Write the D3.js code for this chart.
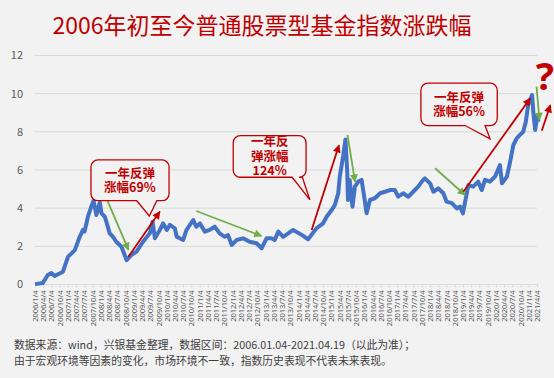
<!DOCTYPE html>
<html>
<head>
<meta charset="utf-8">
<script src="https://cdn.jsdelivr.net/npm/d3@7"></script>
<style>
  html, body { margin: 0; padding: 0; background: #f2f2f2; }
  svg { display: block; font-family: "Noto Sans CJK SC", "Noto Sans", sans-serif; }
</style>
</head>
<body>
<svg id="chart" width="554" height="378"></svg>
<script>
// cumulative return of the index
const dates = [
  "2006-01-04","2006-04-01","2006-05-26","2006-07-05","2006-08-10","2006-11-10",
  "2007-01-06","2007-02-14","2007-03-22","2007-05-15","2007-06-20","2007-07-08",
  "2007-08-14","2007-09-20","2007-10-16","2007-11-16","2007-12-24","2008-01-12",
  "2008-02-18","2008-04-12","2008-05-18","2008-06-24","2008-08-20","2008-10-16",
  "2008-12-10","2009-02-03","2009-04-16","2009-07-01","2009-07-31","2009-08-26",
  "2009-10-20","2009-11-25","2010-01-05","2010-02-08","2010-04-05","2010-04-25",
  "2010-07-05","2010-08-12","2010-10-25","2010-11-28","2011-01-08","2011-03-03",
  "2011-04-26","2011-06-20","2011-08-14","2011-10-10","2011-11-16","2011-12-26",
  "2012-02-18","2012-05-01","2012-07-12","2012-09-27","2012-11-22","2013-01-16",
  "2013-03-11","2013-04-16","2013-05-26","2013-07-19","2013-09-13","2013-11-06",
  "2014-02-10","2014-04-22","2014-07-23","2014-10-05","2014-11-13","2015-01-08",
  "2015-02-13","2015-03-22","2015-04-08","2015-05-15","2015-06-10","2015-06-29",
  "2015-07-08","2015-07-27","2015-08-27","2015-09-23","2015-10-30","2015-12-06",
  "2016-01-04","2016-01-31","2016-03-08","2016-05-01","2016-06-28","2016-08-21",
  "2016-10-15","2016-12-09","2017-01-15","2017-03-11","2017-05-07","2017-07-01",
  "2017-08-25","2017-10-19","2017-11-07","2018-01-04","2018-02-10","2018-04-05",
  "2018-05-31","2018-07-06","2018-09-02","2018-10-27","2018-12-03","2019-01-03",
  "2019-01-28","2019-03-05","2019-04-28","2019-06-22","2019-07-31","2019-09-05",
  "2019-10-30","2019-12-25","2020-02-18","2020-03-11","2020-05-05","2020-06-10",
  "2020-07-16","2020-08-22","2020-09-27","2020-11-02","2020-12-01","2020-12-27",
  "2021-02-08","2021-02-25","2021-03-15","2021-04-08","2021-04-19"
];
const values = [
  0.02, 0.08, 0.50, 0.60, 0.45, 0.67,
  1.46, 1.63, 1.80, 2.50, 2.86, 2.77,
  3.55, 4.08, 4.40, 3.64, 4.30, 3.73,
  3.55, 2.68, 2.50, 2.24, 1.98, 1.28,
  1.55, 1.72, 2.24, 2.68, 3.29, 2.42,
  2.86, 3.20, 2.86, 3.12, 2.94, 2.50,
  2.33, 2.86, 3.38, 3.03, 3.20, 2.77,
  2.86, 3.03, 2.68, 2.50, 2.59, 2.07,
  2.33, 2.42, 2.24, 2.16, 1.90, 2.42,
  2.42, 2.33, 2.77, 2.50, 2.68, 2.86,
  2.60, 2.37, 2.94, 3.20, 3.55, 3.90,
  4.17, 4.78, 5.65, 6.70, 7.60, 6.00,
  4.43, 5.48, 4.08, 5.13, 5.39, 5.48,
  4.60, 3.73, 4.43, 4.52, 4.78, 4.86,
  4.95, 4.95, 4.60, 4.78, 4.60, 4.86,
  5.13, 5.48, 5.56, 5.30, 4.86, 5.04,
  4.78, 4.34, 4.26, 3.99, 4.08, 3.73,
  4.34, 5.21, 5.13, 5.39, 4.95, 5.48,
  5.39, 5.65, 6.26, 5.30, 5.65, 6.44,
  7.31, 7.66, 7.84, 8.00, 8.53, 9.41,
  9.93, 8.88, 8.10, 8.88, 8.53
];

const yTicks = [0, 2, 4, 6, 8, 10, 12];
const tickLabels = [];
for (let yr = 2006; yr <= 2021; yr++) {
  for (const m of [1, 4, 7, 10]) {
    if (yr === 2021 && m > 4) break;
    tickLabels.push(`${yr}/${m}/4`);
  }
}

// annotations (fractional year, value)
const greenArrows = [
  [[2008.20, 4.43], [2008.85, 1.81]],
  [[2010.91, 3.85], [2012.89, 2.54]],
  [[2015.50, 7.84], [2015.73, 5.39]],
  [[2018.16, 6.09], [2019.07, 4.69]],
  [[2021.24, 10.37], [2021.33, 8.62]]
];
const redArrows = [
  [[2008.85, 1.46], [2009.80, 3.82]],
  [[2014.41, 2.86], [2015.24, 7.30]],
  [[2019.02, 4.86], [2021.05, 9.76]],
  [[2021.40, 8.06], [2021.66, 9.40]]
];
const callouts = [
  { x0: 2007.71, x1: 2010.08, top: 6.53, bottom: 4.39, base: [2009.10, 2009.71], tip: [2009.48, 3.59], lines: ["一年反弹", "涨幅69%"] },
  { x0: 2012.03, x1: 2014.24, top: 7.80, bottom: 5.62, base: [2013.82, 2014.13], tip: [2014.36, 4.43], lines: ["一年反", "弹涨幅", "124%"] },
  { x0: 2017.73, x1: 2020.05, top: 10.55, bottom: 8.33, base: [2019.07, 2019.68], tip: [2019.83, 7.63], lines: ["一年反弹", "涨幅56%"] }
];

const parse = d3.timeParse("%Y-%m-%d");
const data = dates.map((d, i) => ({ date: parse(d), value: values[i] }));
const fy = f => { const y = Math.floor(f); return new Date(y, 0, 1 + Math.round((f - y) * 365)); };

const red = "#c00000", green = "#70ad47", blue = "#4472c4";
const svg = d3.select("#chart");

const x = d3.scaleTime()
  .domain([new Date(2006, 0, 4), new Date(2021, 3, 4)])
  .range([35, 537]);
const y = d3.scaleLinear().domain([0, 12]).range([284.5, 55.5]);

// title
svg.append("text")
  .attr("x", 262).attr("y", 34)
  .attr("text-anchor", "middle")
  .attr("font-size", "23px")
  .attr("fill", red)
  .text("2006年初至今普通股票型基金指数涨跌幅");

// grid + y labels
svg.append("g").selectAll("line").data(yTicks.filter(d => d > 0)).join("line")
  .attr("x1", 35).attr("x2", 537)
  .attr("y1", d => y(d)).attr("y2", d => y(d))
  .attr("stroke", "#d9d9d9").attr("stroke-width", 1);

svg.append("g").selectAll("text").data(yTicks).join("text")
  .attr("x", 23).attr("y", d => y(d))
  .attr("dy", "0.35em")
  .attr("text-anchor", "end")
  .attr("font-size", "11px")
  .attr("fill", "#595959")
  .text(d => d);

// x axis
const tickDates = tickLabels.map(t => d3.timeParse("%Y/%m/%d")(t));
const xAxis = svg.append("g")
  .attr("transform", `translate(0,${y(0)})`)
  .call(d3.axisBottom(x).tickValues(tickDates).tickSize(3).tickFormat(d3.timeFormat("%Y/%-m/%-d")));
xAxis.select(".domain").attr("stroke", "#d9d9d9").attr("d", "M35,0H537");
xAxis.selectAll(".tick line").attr("stroke", "#d9d9d9");
xAxis.selectAll(".tick text")
  .attr("transform", "rotate(-90)")
  .attr("x", -6).attr("y", 0).attr("dy", "0.35em")
  .attr("text-anchor", "end")
  .attr("font-size", "7.5px")
  .attr("font-family", "Noto Sans, sans-serif")
  .attr("fill", "#595959");

// series
svg.append("path")
  .datum(data)
  .attr("fill", "none")
  .attr("stroke", blue)
  .attr("stroke-width", 4)
  .attr("stroke-linejoin", "round")
  .attr("d", d3.line().x(d => x(d.date)).y(d => y(d.value)));

// arrow markers
const defs = svg.append("defs");
[["g", green], ["r", red]].forEach(([id, c]) => {
  defs.append("marker")
    .attr("id", "head-" + id)
    .attr("viewBox", "0 0 10 10")
    .attr("refX", 9).attr("refY", 5)
    .attr("markerWidth", 9).attr("markerHeight", 8)
    .attr("markerUnits", "userSpaceOnUse")
    .attr("orient", "auto")
    .append("path").attr("d", "M0,0L10,5L0,10Z").attr("fill", c);
});

function drawArrows(list, color, id) {
  svg.append("g").selectAll("line").data(list).join("line")
    .attr("x1", d => x(fy(d[0][0]))).attr("y1", d => y(d[0][1]))
    .attr("x2", d => x(fy(d[1][0]))).attr("y2", d => y(d[1][1]))
    .attr("stroke", color)
    .attr("stroke-width", 1.8)
    .attr("marker-end", `url(#head-${id})`);
}
drawArrows(greenArrows, green, "g");
drawArrows(redArrows, red, "r");

// callouts
callouts.forEach(c => {
  const l = x(fy(c.x0)), r = x(fy(c.x1)), t = y(c.top), b = y(c.bottom);
  const b1 = x(fy(c.base[0])), b2 = x(fy(c.base[1]));
  const tx = x(fy(c.tip[0])), ty = y(c.tip[1]);
  const rad = 7;
  const p = d3.path();
  p.moveTo(l + rad, t);
  p.lineTo(r - rad, t);
  p.arcTo(r, t, r, t + rad, rad);
  p.lineTo(r, b - rad);
  p.arcTo(r, b, r - rad, b, rad);
  p.lineTo(b2, b);
  p.lineTo(tx, ty);
  p.lineTo(b1, b);
  p.lineTo(l + rad, b);
  p.arcTo(l, b, l, b - rad, rad);
  p.lineTo(l, t + rad);
  p.arcTo(l, t, l + rad, t, rad);
  p.closePath();
  svg.append("path")
    .attr("d", p.toString())
    .attr("fill", "#f2f2f2")
    .attr("stroke", red)
    .attr("stroke-width", 1.3);

  const cx = (l + r) / 2, cy = (t + b) / 2, lh = 14.5;
  svg.append("g").selectAll("text").data(c.lines).join("text")
    .attr("x", cx)
    .attr("y", (d, i) => cy + (i - (c.lines.length - 1) / 2) * lh)
    .attr("dy", "0.36em")
    .attr("text-anchor", "middle")
    .attr("font-size", "12.5px")
    .attr("font-weight", "bold")
    .attr("fill", red)
    .text(d => d);
});

// question mark
svg.append("text")
  .attr("x", x(fy(2021.49))).attr("y", y(10.2))
  .attr("text-anchor", "middle")
  .attr("font-size", "38px")
  .attr("font-weight", "bold")
  .attr("font-family", "Noto Sans, sans-serif")
  .attr("fill", red)
  .text("?");

// footer
const notes = [
  "数据来源：wind，兴银基金整理，数据区间：2006.01.04-2021.04.19（以此为准）；",
  "由于宏观环境等因素的变化，市场环境不一致，指数历史表现不代表未来表现。"
];
svg.append("g").selectAll("text").data(notes).join("text")
  .attr("x", 14).attr("y", (d, i) => 349 + i * 16)
  .attr("font-size", "10.8px")
  .attr("fill", "#404040")
  .text(d => d);
</script>
</body>
</html>
